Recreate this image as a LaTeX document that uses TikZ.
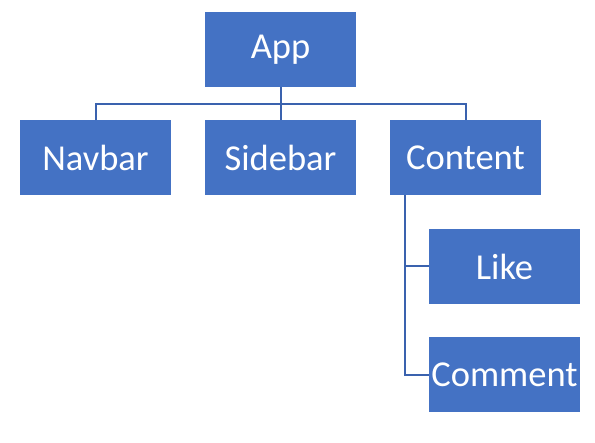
\documentclass[tikz,border=0pt]{standalone}
\usepackage{fontspec}
\setmainfont{Carlito}
\definecolor{boxblue}{HTML}{4472C4}
\definecolor{lineblue}{HTML}{3A62AE}

\begin{document}
\begin{tikzpicture}[x=1pt, y=-1pt,
  every node/.style={fill=boxblue, text=white, minimum width=151pt, minimum height=75pt, inner sep=0pt, font=\fontsize{36.5}{44}\selectfont},
  link/.style={draw=lineblue, line width=2pt}]

\useasboundingbox (0,0) rectangle (595,443);

\node (app) at (280.5,49.5) {App};
\node (navbar) at (95.5,158) {Navbar};
\node (sidebar) at (280.5,158) {Sidebar};
\node (content) at (465.5,158) {Content};
\node (like) at (504.5,266.5) {Like};
\node (comment) at (504.5,375) {Comment};

% top level
\coordinate (bus) at (280.5,104);
\draw[link] (app.south) -- (sidebar.north);
\draw[link] (navbar.north) |- (bus) -| (content.north);

% under content
\coordinate (drop) at (405,195.5);
\draw[link] (drop) |- (comment.west);
\draw[link] (drop |- like.west) -- (like.west);

\end{tikzpicture}
\end{document}
